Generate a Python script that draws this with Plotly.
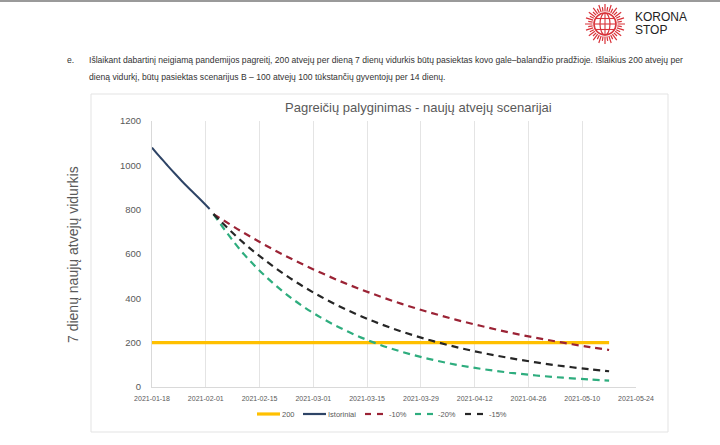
import math
import plotly.graph_objects as go

# ---------------- data ----------------
hist_dates = ["2021-01-18", "2021-01-20", "2021-01-22", "2021-01-24", "2021-01-26",
              "2021-01-28", "2021-01-30", "2021-02-01", "2021-02-02"]
hist_vals = [1080, 1039, 1000, 962, 925, 890, 856, 821, 803]

line200_dates = ["2021-01-18", "2021-05-17"]
line200_vals = [200, 200]

scen_dates = ["2021-02-03", "2021-02-10", "2021-02-17", "2021-02-24", "2021-03-03",
              "2021-03-10", "2021-03-17", "2021-03-24", "2021-03-31", "2021-04-07",
              "2021-04-14", "2021-04-21", "2021-04-28", "2021-05-05", "2021-05-12",
              "2021-05-17"]
scen_10 = [780, 705, 635, 572, 515, 463, 417, 375, 338, 304, 274, 246, 222, 200, 180, 167]
scen_20 = [780, 618, 492, 392, 313, 250, 199, 159, 127, 101, 81, 65, 52, 42, 34, 29]
scen_15 = [780, 663, 564, 479, 407, 346, 294, 250, 213, 181, 154, 131, 111, 94, 80, 71]

legend_labels = ["200", "Istoriniai", "-10%", "-20%", "-15%"]
title_text = "Pagreičių palyginimas - naujų atvejų scenarijai"
y_title = "7 dienų naujų atvejų vidurkis"
doc_line1 = ("Išlaikant dabartinį neigiamą pandemijos pagreitį, 200 atvejų per dieną 7 dienų vidurkis "
             "būtų pasiektas kovo gale–balandžio pradžioje. Išlaikius 200 atvejų per")
doc_line2 = "dieną vidurkį, būtų pasiektas scenarijus B – 100 atvejų 100 tūkstančių gyventojų per 14 dienų."

# ---------------- styles ----------------
C_Y = "#FFC000"
C_B = "#2E4466"
C_R = "#9B2335"
C_G = "#2EAD7E"
C_K = "#262626"
GRAY = "#595959"
ARIAL = "Liberation Sans, Arial, sans-serif"
DASH = "7px,5px"

W, H = 720, 445
ML, MR, MT, MB = 152, 84, 121, 58
PW, PH = W - ML - MR, H - MT - MB


def px(x):
    return (x - ML) / PW


def py(y):
    return (H - MB - y) / PH


fig = go.Figure()
fig.add_trace(go.Scatter(x=line200_dates, y=line200_vals, mode="lines", name=legend_labels[0],
                         line=dict(color=C_Y, width=3.2), showlegend=False))
fig.add_trace(go.Scatter(x=hist_dates, y=hist_vals, mode="lines", name=legend_labels[1],
                         line=dict(color=C_B, width=2, shape="spline"), showlegend=False))
fig.add_trace(go.Scatter(x=scen_dates, y=scen_10, mode="lines", name=legend_labels[2],
                         line=dict(color=C_R, width=2.2, dash=DASH, shape="spline"), showlegend=False))
fig.add_trace(go.Scatter(x=scen_dates, y=scen_20, mode="lines", name=legend_labels[3],
                         line=dict(color=C_G, width=2.2, dash=DASH, shape="spline"), showlegend=False))
fig.add_trace(go.Scatter(x=scen_dates, y=scen_15, mode="lines", name=legend_labels[4],
                         line=dict(color=C_K, width=2.2, dash=DASH, shape="spline"), showlegend=False))

shapes = []
annotations = []

# top gray band
shapes.append(dict(type="rect", xref="paper", yref="paper", x0=px(0), x1=px(720), y0=py(2), y1=py(0),
                   fillcolor="#9a9a9a", line=dict(width=0), layer="below"))
# chart box
shapes.append(dict(type="rect", xref="paper", yref="paper", x0=px(91), x1=px(668), y0=py(432), y1=py(94),
                   fillcolor="white", line=dict(color="#E3E3E3", width=1), layer="below"))

# manual legend
leg_y = py(414)
leg_items = [
    (257, 280, 281, C_Y, 3.2, False),
    (303, 326, 327, C_B, 2.2, False),
    (365, 383, 388, C_R, 2.2, True),
    (415, 433, 437, C_G, 2.2, True),
    (465, 483, 488, C_K, 2.2, True),
]
for (x0, x1, tx, col, lw, dashed), lab in zip(leg_items, legend_labels):
    if dashed:
        segs = [(x0, x0 + 6), (x1 - 6, x1)]
    else:
        segs = [(x0, x1)]
    for a, b in segs:
        shapes.append(dict(type="line", xref="paper", yref="paper", x0=px(a), x1=px(b), y0=leg_y, y1=leg_y,
                           line=dict(color=col, width=lw)))
    annotations.append(dict(text=lab, xref="paper", yref="paper", x=px(tx), y=leg_y, xanchor="left",
                            yanchor="middle", showarrow=False, borderpad=0,
                            font=dict(family=ARIAL, size=7.5, color=GRAY)))

# chart title
annotations.append(dict(text=title_text, xref="paper", yref="paper", x=px(418), y=py(107), xanchor="center",
                        yanchor="middle", showarrow=False, font=dict(family=ARIAL, size=13, color=GRAY)))
# y title
annotations.append(dict(text=y_title, xref="paper", yref="paper", x=px(73), y=py(255), xanchor="center",
                        yanchor="middle", textangle=-90, showarrow=False,
                        font=dict(family=ARIAL, size=14, color=GRAY)))

# document text
DOCF = dict(family=ARIAL, size=8.6, color="#333")
annotations.append(dict(text="e.", xref="paper", yref="paper", x=px(66), y=py(60), xanchor="left",
                        yanchor="middle", showarrow=False, borderpad=0, font=DOCF))
annotations.append(dict(text=doc_line1, xref="paper", yref="paper", x=px(88), y=py(60), xanchor="left",
                        yanchor="middle", showarrow=False, borderpad=0, font=DOCF))
annotations.append(dict(text=doc_line2, xref="paper", yref="paper", x=px(88), y=py(77), xanchor="left",
                        yanchor="middle", showarrow=False, borderpad=0, font=DOCF))

# logo
RED = "#D9343B"
cx, cy = 605, 24
path = ""
for i in range(40):
    a = 2 * math.pi * i / 40
    r1, r2 = 12.5, (20 if i % 2 == 0 else 17)
    path += "M %.5f %.5f L %.5f %.5f " % (px(cx + r1 * math.cos(a)), py(cy + r1 * math.sin(a)),
                                        px(cx + r2 * math.cos(a)), py(cy + r2 * math.sin(a)))
shapes.append(dict(type="path", xref="paper", yref="paper", path=path, line=dict(color=RED, width=1.2)))
shapes.append(dict(type="circle", xref="paper", yref="paper", x0=px(cx - 11), x1=px(cx + 11),
                   y0=py(cy + 11), y1=py(cy - 11), line=dict(color=RED, width=1.6)))
shapes.append(dict(type="circle", xref="paper", yref="paper", x0=px(cx - 5), x1=px(cx + 5),
                   y0=py(cy + 11), y1=py(cy - 11), line=dict(color=RED, width=1.2)))
for dy in (-5.5, 0, 5.5):
    half = math.sqrt(121 - dy * dy)
    shapes.append(dict(type="line", xref="paper", yref="paper", x0=px(cx - half), x1=px(cx + half),
                       y0=py(cy + dy), y1=py(cy + dy), line=dict(color=RED, width=1.1)))
shapes.append(dict(type="line", xref="paper", yref="paper", x0=px(cx), x1=px(cx),
                   y0=py(cy + 11), y1=py(cy - 11), line=dict(color=RED, width=1.1)))
LOGOF = dict(family=ARIAL, size=12, color="#222")
annotations.append(dict(text="KORONA", xref="paper", yref="paper", x=px(634), y=py(17), xanchor="left",
                        yanchor="middle", showarrow=False, borderpad=0, font=LOGOF))
annotations.append(dict(text="STOP", xref="paper", yref="paper", x=px(634), y=py(30), xanchor="left",
                        yanchor="middle", showarrow=False, borderpad=0, font=LOGOF))

fig.update_layout(
    width=W, height=H,
    margin=dict(l=ML, r=MR, t=MT, b=MB, pad=0),
    paper_bgcolor="white", plot_bgcolor="white",
    showlegend=False,
    shapes=shapes, annotations=annotations,
    xaxis=dict(type="date", range=["2021-01-18", "2021-05-24"], tick0="2021-01-18", dtick=14 * 86400000,
               tickformat="%Y-%m-%d", showgrid=True, gridcolor="#E4E4E4", gridwidth=1,
               showline=True, linecolor="#D9D9D9", linewidth=1, zeroline=False, ticks="",
               tickfont=dict(family=ARIAL, size=7, color=GRAY), ticklabelstandoff=5),
    yaxis=dict(range=[0, 1200], dtick=200, showgrid=False, zeroline=False,
               showline=True, linecolor="#D9D9D9", linewidth=1, ticks="",
               tickfont=dict(family=ARIAL, size=9.5, color=GRAY), ticklabelstandoff=8),
)

fig.write_html("out.html", config={"displayModeBar": False},
               post_script="document.body.style.margin='0px';")
